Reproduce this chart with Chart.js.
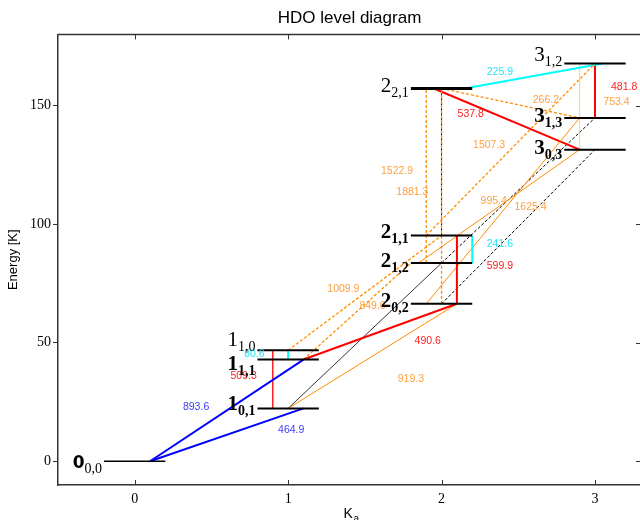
<!DOCTYPE html>
<html>
<head>
<meta charset="utf-8">
<script src="https://cdn.jsdelivr.net/npm/chart.js@4.4.0/dist/chart.umd.min.js"></script>
<style>
  html, body { margin: 0; padding: 0; background: #fff; }
  #wrap { width: 640px; height: 520px; overflow: hidden; }
</style>
</head>
<body>
<div id="wrap"><canvas id="chart" width="650" height="520"></canvas></div>
<script>
// Energy levels of HDO: J (drawn at x = J), label parts, energy in K
const levelJ = [0, 1, 1, 1, 2, 2, 2, 2, 3, 3, 3];
const levelMain = ['0', '1', '1', '1', '2', '2', '2', '2', '3', '3', '3'];
const levelSub = ['0,0', '0,1', '1,1', '1,0', '0,2', '1,2', '1,1', '2,1', '0,3', '1,3', '1,2'];
const levelEnergy = [0, 22.3, 42.9, 46.8, 66.4, 83.6, 95.2, 157.2, 131.4, 144.8, 167.7];

// Transitions: lower / upper level index, x of each end, frequency in GHz
const lineLower = [0, 0, 1, 2, 2, 1, 3, 2, 4, 5, 5, 4, 5, 4, 6, 7, 7, 7, 9, 8, 1, 5, 4, 6];
const lineUpper = [2, 1, 3, 3, 4, 4, 6, 5, 6, 6, 7, 7, 8, 9, 10, 8, 9, 10, 10, 10, 5, 9, 8, 7];
const lineXLow = [0.1, 0.1, 0.9, 1.0, 1.1, 1.0, 1.0, 1.1, 2.1, 2.2, 1.9, 2.0, 1.85, 1.9, 1.9, 1.95, 2.0, 2.15, 3.0, 2.9, 1.0, 2.0, 2.0, 2.0];
const lineXUp = [1.1, 1.1, 0.9, 1.0, 2.1, 2.1, 2.0, 1.8, 2.1, 2.2, 1.9, 2.0, 2.9, 2.9, 3.0, 2.9, 2.9, 3.05, 3.0, 2.9, 2.0, 3.0, 3.0, 2.0];
const lineFreq = ['893.6', '464.9', '509.3', '80.6', '490.6', '919.3', '1009.9', '849.0', '599.9', '241.6',
  '1522.9', '1881.3', '995.4', '1625.4', '1507.3', '537.8', '266.2', '225.9', '481.8', '753.4', '', '', '', ''];
const lineGroup = ['ground', 'ground', 'redThin', 'cyan', 'red', 'orange', 'orangeDash', 'orangeDash', 'red', 'cyan',
  'orangeDash', 'orangeDash', 'orange', 'orange', 'orangeDash', 'red', 'orangeDash', 'cyan', 'red', 'orangeDot',
  'black', 'blackDash', 'blackDash', 'blackDash'];

// where the frequency labels sit (data coords)
const labelX = [0.40, 1.02, 0.71, 0.78, 1.91, 1.80, 1.36, 1.55, 2.38, 2.38, 1.71, 1.81, 2.34, 2.58, 2.31, 2.19, 2.68, 2.38, 3.19, 3.14];
const labelY = [22.8, 13.1, 35.8, 45.1, 50.6, 34.6, 72.5, 65.3, 82.2, 91.4, 122.2, 113.4, 109.6, 107.0, 133.2, 146.2, 152.1, 163.9, 157.6, 151.3];

const xTicks = [0, 1, 2, 3];
const yTicks = [0, 50, 100, 150];

const groupStyle = {
  ground:     { color: '#0000ff', width: 2,   dash: [],     text: '#3a3aff' },
  red:        { color: '#ff0000', width: 2,   dash: [],     text: '#ff2020' },
  redThin:    { color: '#ff0000', width: 1.3, dash: [],     text: '#ff2020' },
  cyan:       { color: '#00ffff', width: 2,   dash: [],     text: '#20e8f8' },
  orange:     { color: '#ff8c00', width: 1,   dash: [],     text: '#ffa040' },
  orangeDash: { color: '#ff8c00', width: 1.3, dash: [3, 2], text: '#ffa040' },
  orangeDot:  { color: '#ffa640', width: 1.2, dash: [1, 1], text: '#ffa040' },
  black:      { color: '#000000', width: 0.8, dash: [],     text: '#000' },
  blackDash:  { color: '#000000', width: 1,   dash: [3, 2], text: '#000' }
};

// label nudges in px (digit centre above level), bold labels
const labelNudge = [0, -5, 3, -11, -4, -3.5, -5, -3, -3, -3, -10];
const boldLabel = [true, true, true, false, true, true, true, false, true, true, false];

const datasets = [];

lineLower.forEach((lo, i) => {
  const st = groupStyle[lineGroup[i]];
  datasets.push({
    data: [{ x: lineXLow[i], y: levelEnergy[lo] }, { x: lineXUp[i], y: levelEnergy[lineUpper[i]] }],
    borderColor: st.color,
    borderWidth: st.width,
    borderDash: st.dash,
    showLine: true,
    pointRadius: 0,
    order: 1
  });
});

levelJ.forEach((j, i) => {
  datasets.push({
    data: [{ x: j - 0.2, y: levelEnergy[i] }, { x: j + 0.2, y: levelEnergy[i] }],
    borderColor: '#000',
    borderWidth: i === 7 ? 3 : (i === 0 ? 1.5 : 2),
    showLine: true,
    pointRadius: 0,
    order: 0
  });
});

// Text, inward ticks and the top/right spines
const annotate = {
  id: 'annotate',
  afterDatasetsDraw(chart) {
    const { ctx, chartArea: a, scales: { x, y } } = chart;
    ctx.save();

    // frequency labels
    ctx.font = '10.5px "Liberation Sans", Arial, sans-serif';
    ctx.textAlign = 'center';
    ctx.textBaseline = 'middle';
    labelX.forEach((lx, i) => {
      ctx.fillStyle = groupStyle[lineGroup[i]].text;
      ctx.fillText(lineFreq[i], x.getPixelForValue(lx), y.getPixelForValue(labelY[i]));
    });

    // level names like 2_{1,1}
    ctx.textBaseline = 'alphabetic';
    ctx.textAlign = 'left';
    levelJ.forEach((j, i) => {
      const bold = boldLabel[i] ? 'bold ' : '';
      const mainFont = i === 0 ? 'bold 17px "DejaVu Sans", sans-serif' : bold + '21px "Liberation Serif", serif';
      const subFont = (i === 0 ? '' : bold) + '14px "Liberation Serif", serif';
      ctx.font = mainFont;
      const wMain = ctx.measureText(levelMain[i]).width;
      ctx.font = subFont;
      const wSub = ctx.measureText(levelSub[i]).width;
      const right = x.getPixelForValue(j - 0.2) - 2;
      const base = y.getPixelForValue(levelEnergy[i]) + labelNudge[i] + 7;
      ctx.fillStyle = '#000';
      ctx.font = mainFont;
      ctx.fillText(levelMain[i], right - wSub - wMain, base);
      ctx.font = subFont;
      ctx.fillText(levelSub[i], right - wSub, base + 5);
    });

    // spines and inward ticks
    ctx.strokeStyle = '#333';
    ctx.lineWidth = 1.5;
    ctx.beginPath();
    ctx.moveTo(a.left, a.top);
    ctx.lineTo(a.right, a.top);
    ctx.lineTo(a.right, a.bottom);
    ctx.stroke();
    ctx.lineWidth = 1;
    ctx.beginPath();
    xTicks.forEach(v => {
      const px = Math.round(x.getPixelForValue(v)) + 0.5;
      ctx.moveTo(px, a.bottom); ctx.lineTo(px, a.bottom - 5);
      ctx.moveTo(px, a.top); ctx.lineTo(px, a.top + 5);
    });
    yTicks.forEach(v => {
      const py = Math.round(y.getPixelForValue(v)) + 0.5;
      ctx.moveTo(a.right, py); ctx.lineTo(a.right - 5, py);
    });
    ctx.stroke();

    // x axis title K_a
    ctx.fillStyle = '#000';
    ctx.font = '14px "Liberation Sans", Arial, sans-serif';
    ctx.textAlign = 'left';
    const kx = (a.left + a.right) / 2 - 6;
    ctx.fillText('K', kx, 518);
    ctx.font = '10px "Liberation Sans", Arial, sans-serif';
    ctx.fillText('a', kx + 10, 522);

    ctx.restore();
  }
};

new Chart(document.getElementById('chart'), {
  type: 'scatter',
  data: { datasets },
  options: {
    responsive: false,
    animation: false,
    events: [],
    layout: { padding: { left: 0, right: 9, top: 0, bottom: 0 } },
    plugins: {
      legend: { display: false },
      tooltip: { enabled: false },
      title: {
        display: true,
        fullSize: false,
        text: 'HDO level diagram',
        color: '#000',
        font: { family: '"Liberation Sans", Arial, sans-serif', size: 17, weight: 'normal', lineHeight: 1.2 },
        padding: { top: 8, bottom: 6 }
      }
    },
    scales: {
      x: {
        type: 'linear',
        min: -0.5,
        max: 3.3,
        afterBuildTicks: s => { s.ticks = xTicks.map(v => ({ value: v })); },
        afterFit: s => { s.height = 35; },
        grid: { display: false },
        border: { display: true, color: '#333', width: 1.5 },
        ticks: {
          color: '#000',
          padding: -2,
          maxRotation: 0,
          font: { family: '"Liberation Serif", "Times New Roman", serif', size: 14 }
        }
      },
      y: {
        type: 'linear',
        min: -10,
        max: 180,
        afterBuildTicks: s => { s.ticks = yTicks.map(v => ({ value: v })); },
        afterFit: s => { s.width = 58; },
        grid: { drawOnChartArea: false, tickLength: 5, color: '#333' },
        border: { display: true, color: '#333', width: 1.5 },
        ticks: {
          color: '#000',
          padding: 2,
          font: { family: '"Liberation Serif", "Times New Roman", serif', size: 14 }
        },
        title: {
          display: true,
          text: 'Energy [K]',
          color: '#000',
          padding: { top: 6, bottom: 0 },
          font: { family: '"Liberation Sans", Arial, sans-serif', size: 13 }
        }
      }
    }
  },
  plugins: [annotate]
});
</script>
</body>
</html>
